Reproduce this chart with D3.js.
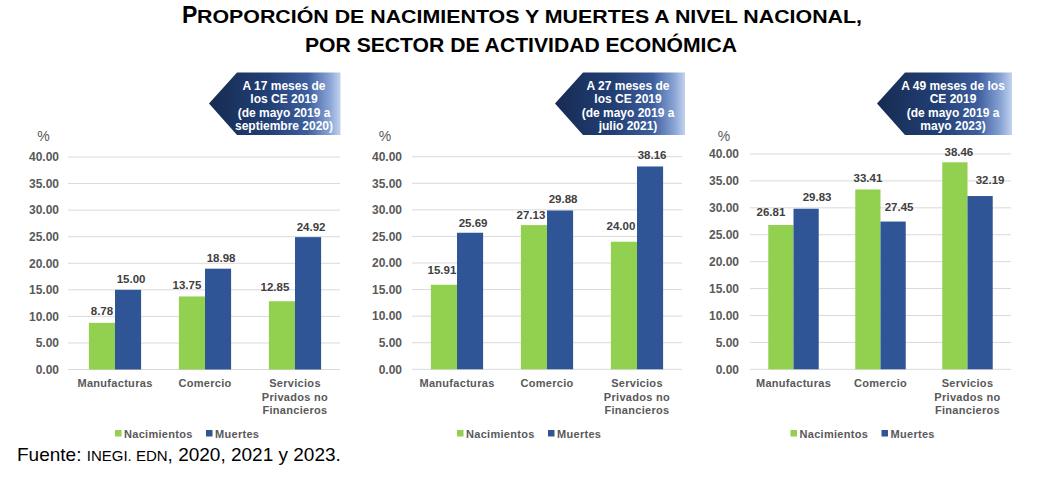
<!DOCTYPE html>
<html>
<head>
<meta charset="utf-8">
<script src="https://cdn.jsdelivr.net/npm/d3@7"></script>
<style>
  html, body { margin: 0; padding: 0; background: #fff; }
  svg { display: block; font-family: "Liberation Sans", Arial, Helvetica, sans-serif; }
</style>
</head>
<body>
<svg id="chart" width="1040" height="483"></svg>
<script>
// ---------- data ----------
const categories = ["Manufacturas", "Comercio", "Servicios Privados no Financieros"];
const categoryLines = [["Manufacturas"], ["Comercio"], ["Servicios", "Privados no", "Financieros"]];
const seriesNames = ["Nacimientos", "Muertes"];
const nacimientos2020 = [8.78, 13.75, 12.85];
const muertes2020 = [15.00, 18.98, 24.92];
const nacimientos2021 = [15.91, 27.13, 24.00];
const muertes2021 = [25.69, 29.88, 38.16];
const nacimientos2023 = [26.81, 33.41, 38.46];
const muertes2023 = [29.83, 27.45, 32.19];
const yTicks = [0, 5, 10, 15, 20, 25, 30, 35, 40];
const note2020 = ["A 17 meses de", "los CE 2019", "(de mayo 2019 a", "septiembre 2020)"];
const note2021 = ["A 27 meses de", "los CE 2019", "(de mayo 2019 a", "julio 2021)"];
const note2023 = ["A 49 meses de los", "CE 2019", "(de mayo 2019 a", "mayo 2023)"];
const titleLine1First = "P";
const titleLine1Rest = "ROPORCIÓN DE NACIMIENTOS Y MUERTES A NIVEL NACIONAL,";
const titleLine2 = "POR SECTOR DE ACTIVIDAD ECONÓMICA";

const colors = { Nacimientos: "#92d050", Muertes: "#2f5597" };

// ---------- layout (label nudges are [dx, extra lift] in px) ----------
const panels = [
  { nac: nacimientos2020, mue: muertes2020, note: note2020,
    left: 70, right: 340, gridLeft: 68, y0: 369.5, yTop: 157,
    tip: 209, boxRight: 340.5, noteCx: 284, pctX: 43.5, tickX: 59,
    nudgeN: [[0, 1], [-5, 0.5], [-7, 3]], nudgeM: [[3, 0], [3, 0], [3, -0.5]] },
  { nac: nacimientos2021, mue: muertes2021, note: note2021,
    left: 412, right: 682, gridLeft: 412, y0: 369.3, yTop: 156.7,
    tip: 555, boxRight: 685, noteCx: 628, pctX: 385, tickX: 402,
    nudgeN: [[-2, 3.5], [-3, -1], [-3, 5]], nudgeM: [[3, -1], [3, 0], [2, 0]] },
  { nac: nacimientos2023, mue: muertes2023, note: note2023,
    left: 750, right: 1011, gridLeft: 750, y0: 369.3, yTop: 154,
    tip: 877, boxRight: 1012, noteCx: 953, pctX: 724, tickX: 739,
    nudgeN: [[-10, 2], [0, 0], [4, -1]], nudgeM: [[11, 1], [6, 4], [10, 5]] }
];

const svg = d3.select("#chart");
const defs = svg.append("defs");

// ---------- title ----------
const tf = "'Liberation Sans Narrow', 'Arial Narrow', 'Liberation Sans', Arial, sans-serif";
svg.append("text").attr("x", 182).attr("y", 23)
  .attr("font-family", tf).attr("font-weight", "bold").attr("font-size", 23)
  .attr("fill", "#000").text(titleLine1First);
svg.append("text").attr("x", 197).attr("y", 23)
  .attr("font-family", tf).attr("font-weight", "bold").attr("font-size", 18.5)
  .attr("fill", "#000")
  .attr("textLength", 665).attr("lengthAdjust", "spacingAndGlyphs")
  .text(titleLine1Rest);
svg.append("text").attr("x", 305).attr("y", 52)
  .attr("font-family", tf).attr("font-weight", "bold").attr("font-size", 19.5)
  .attr("fill", "#000")
  .attr("textLength", 432).attr("lengthAdjust", "spacingAndGlyphs")
  .text(titleLine2);

// ---------- panels ----------
panels.forEach((p, i) => {
  const g = svg.append("g");
  const x0 = d3.scaleBand().domain(categories).range([p.left, p.right]).paddingInner(0).paddingOuter(0);
  const groupW = x0.bandwidth() * 0.58;
  const x1 = d3.scaleBand().domain(seriesNames).range([0, groupW]).padding(0);
  const y = d3.scaleLinear().domain([0, 40]).range([p.y0, p.yTop]);

  // gridlines
  g.selectAll(".grid").data(yTicks).join("line")
    .attr("x1", p.gridLeft).attr("x2", p.right)
    .attr("y1", d => y(d)).attr("y2", d => y(d))
    .attr("stroke", "#d9d9d9").attr("stroke-width", 1);

  // y tick labels via axis
  const yAxis = d3.axisLeft(y).tickValues(yTicks).tickFormat(d3.format(".2f")).tickSize(0).tickPadding(0);
  const ag = g.append("g").attr("transform", `translate(${p.tickX},0)`).call(yAxis);
  ag.select(".domain").remove();
  ag.selectAll("text").attr("font-size", 12).attr("font-weight", "bold")
    .attr("fill", "#595959").attr("font-family", "'Liberation Sans', Arial, sans-serif");

  // % label
  g.append("text").attr("x", p.pctX).attr("y", 141).attr("text-anchor", "middle")
    .attr("font-size", 14).attr("fill", "#595959").text("%");

  // bars
  const rows = categories.map((c, k) => ({ cat: c, vals: [
    { s: "Nacimientos", v: p.nac[k], n: p.nudgeN[k] },
    { s: "Muertes", v: p.mue[k], n: p.nudgeM[k] } ] }));
  const cg = g.selectAll(".cat").data(rows).join("g")
    .attr("transform", d => `translate(${x0(d.cat) + (x0.bandwidth() - groupW) / 2},0)`);
  cg.selectAll("rect").data(d => d.vals).join("rect")
    .attr("x", d => x1(d.s)).attr("width", x1.bandwidth())
    .attr("y", d => y(d.v)).attr("height", d => y(0) - y(d.v))
    .attr("fill", d => colors[d.s]);
  cg.selectAll(".val").data(d => d.vals).join("text")
    .attr("x", d => x1(d.s) + x1.bandwidth() / 2 + d.n[0])
    .attr("y", d => y(d.v) - 7 - d.n[1])
    .attr("text-anchor", "middle")
    .attr("font-size", 11.5).attr("font-weight", "bold").attr("fill", "#404040")
    .text(d => d3.format(".2f")(d.v));

  // category labels
  categories.forEach((c, k) => {
    const t = g.append("text").attr("text-anchor", "middle")
      .attr("font-size", 11).attr("font-weight", "bold").attr("fill", "#595959")
      .attr("letter-spacing", 0.3);
    categoryLines[k].forEach((ln, j) => {
      t.append("tspan").attr("x", x0(c) + x0.bandwidth() / 2).attr("y", 387 + j * 13.5).text(ln);
    });
  });

  // legend
  const lx = (p.left + p.right) / 2 - 19 - 71;
  seriesNames.forEach((s, j) => {
    const ix = lx + j * 91;
    g.append("rect").attr("x", ix).attr("y", 430).attr("width", 6.5).attr("height", 6.5).attr("fill", colors[s]);
    g.append("text").attr("x", ix + 9).attr("y", 437.5)
      .attr("font-size", 11).attr("font-weight", "bold").attr("fill", "#595959")
      .attr("letter-spacing", 0.3).text(s);
  });

  // annotation box
  const gid = "grad" + i;
  const grad = defs.append("linearGradient").attr("id", gid).attr("x1", 0).attr("x2", 1).attr("y1", 0).attr("y2", 0);
  [[0, "#172b52"], [0.45, "#223f74"], [0.75, "#3d5e9e"], [0.92, "#8aa5d6"], [1, "#c3d3ee"]]
    .forEach(([o, c]) => grad.append("stop").attr("offset", o).attr("stop-color", c));
  const top = 72.5, bot = 135, mid = 103.5, slope = 28;
  g.append("path")
    .attr("d", `M${p.tip},${mid} L${p.tip + slope},${top} L${p.boxRight},${top} L${p.boxRight},${bot} L${p.tip + slope},${bot} Z`)
    .attr("fill", `url(#${gid})`);
  const nt = g.append("text").attr("text-anchor", "middle")
    .attr("font-size", 12).attr("font-weight", "bold").attr("fill", "#fff");
  p.note.forEach((ln, j) => {
    nt.append("tspan").attr("x", p.noteCx).attr("y", 89.5 + j * 13.5).text(ln);
  });
});

// ---------- source ----------
const src = svg.append("text").attr("x", 17).attr("y", 461).attr("fill", "#000")
  .attr("font-family", "'Liberation Sans', Arial, sans-serif");
src.append("tspan").attr("font-size", 19).text("Fuente: ");
src.append("tspan").attr("font-size", 15).text("INEGI. EDN");
src.append("tspan").attr("font-size", 19).text(", 2020, 2021 y 2023.");
</script>
</body>
</html>
